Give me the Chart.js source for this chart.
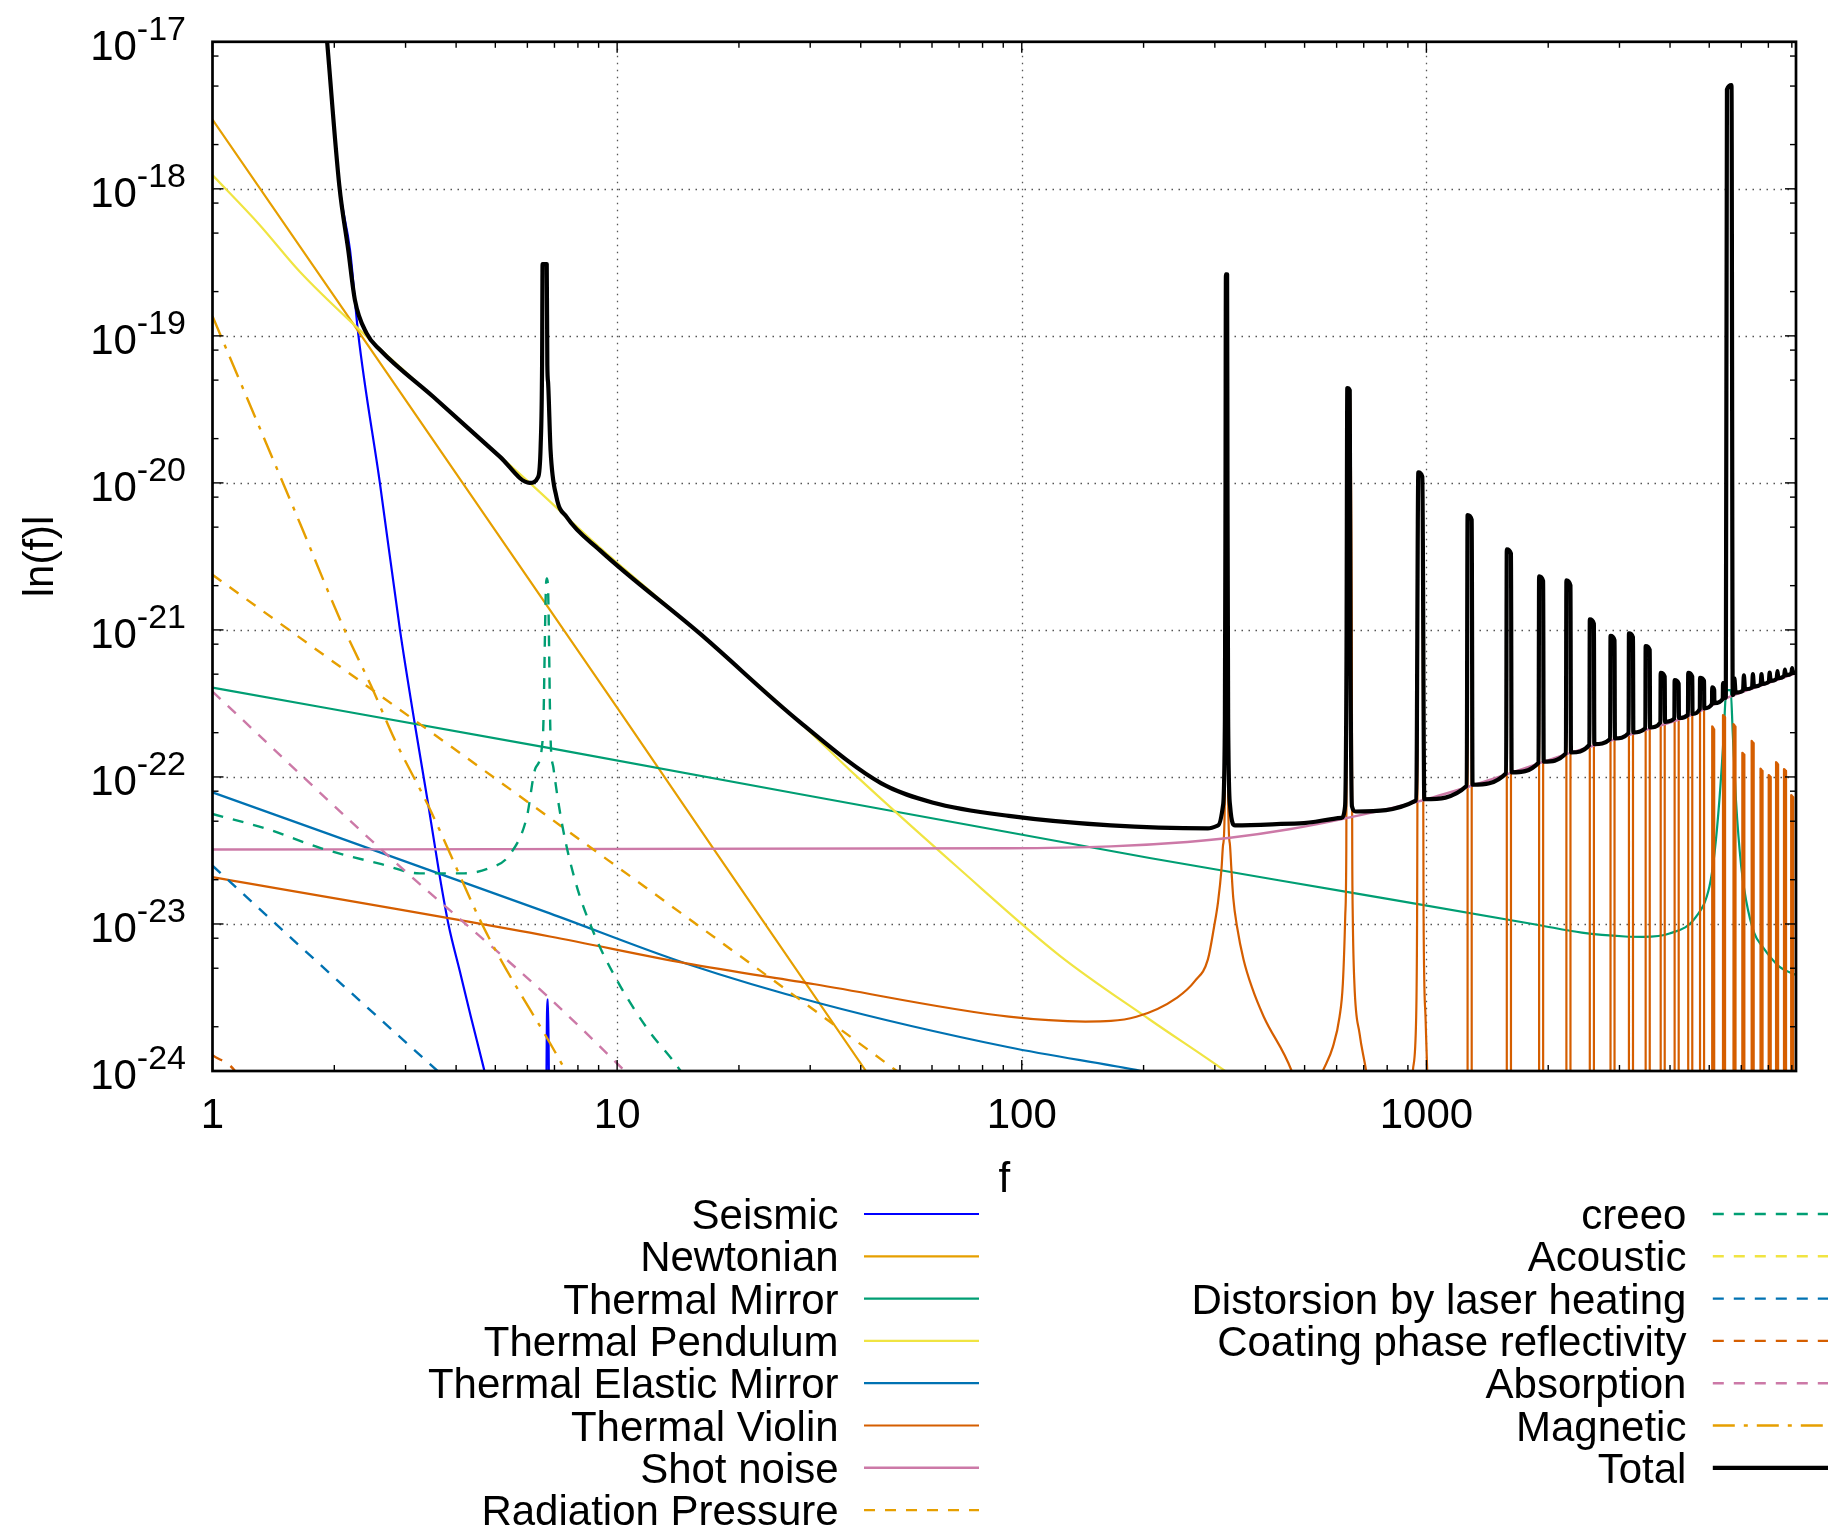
<!DOCTYPE html>
<html>
<head>
<meta charset="utf-8">
<script src="https://cdn.jsdelivr.net/npm/chart.js@4.4.1/dist/chart.umd.min.js"></script>
<style>
  html, body { margin: 0; padding: 0; background: #ffffff; }
  canvas { display: block; }
</style>
</head>
<body>
<canvas id="noise" width="1828" height="1529"></canvas>
<script>
// Noise budget curves, [frequency, amplitude] pairs
const seismic = [[1.92, 1.0e-17], [2.058, 1.05e-18], [2.187, 3.84e-19], [2.291, 1.04e-19], [2.593, 9.93e-21],
  [2.906, 1.0e-21], [3.168, 2.22e-22], [3.419, 6.31e-23], [3.64, 2.15e-23], [3.832, 9.84e-24], [4.083, 4.80e-24],
  [4.35, 2.34e-24], [4.696, 1.01e-24], [5.3, 2.5e-25], [6.6, 2.0e-26], [6.68, 6.0e-25], [6.72, 3.06e-24],
  [6.75, 3.06e-24], [6.79, 6.0e-25], [6.9, 2.0e-26], [8, 1.0e-26]];

const newtonian = [[1, 2.96e-18], [10, 2.96e-22], [41.2, 1.0e-24], [60, 2.3e-25]];

const thermalMirror = [[1, 4.05e-22], [6.82, 1.57e-22], [207, 2.81e-23], [646, 1.64e-23], [1892, 9.84e-24],
  [2421, 8.73e-24], [3097, 8.22e-24], [3425, 8.17e-24], [3987, 8.61e-24], [4641, 1.12e-23], [5004, 1.79e-23],
  [5152, 3.02e-23], [5297, 6.95e-23], [5433, 2.0e-22], [5490, 3.55e-22], [5546, 3.89e-22], [5649, 3.89e-22],
  [5715, 2.0e-22], [5821, 6.97e-23], [5998, 2.45e-23], [6166, 1.45e-23], [6457, 8.71e-24], [6776, 6.98e-24],
  [7447, 5.13e-24], [8035, 4.60e-24], [8300, 4.45e-24]];

const thermalPendulum = [[1, 1.24e-18], [1.303, 5.75e-19], [1.644, 2.73e-19], [2.291, 1.12e-19], [3.508, 3.85e-20],
  [6.081, 1.0e-20], [9.06, 3.63e-21], [16.0, 9.46e-22], [28.2, 2.37e-22], [38.9, 1.02e-22], [69.5, 2.42e-23],
  [124, 6.10e-24], [207, 2.24e-24], [318, 1.0e-24], [398, 6.3e-25]];

const thermalElastic = [[1, 7.85e-23], [6.82, 1.18e-23], [14.72, 5.41e-24], [31.8, 2.88e-24], [92.9, 1.45e-24],
  [197.6, 1.0e-24], [316, 7.6e-25]];

const thermalViolin = [[1, 2.08e-23], [6.82, 8.22e-24], [14.72, 5.42e-24], [30.8, 3.89e-24], [92.9, 2.34e-24],
  [143.6, 2.17e-24], [191.9, 2.34e-24], [242.1, 3.16e-24], [268, 4.1e-24], [288.4, 5.74e-24], [298.6, 9.5e-24],
  [305.5, 1.41e-23], [311.6, 2.37e-23], [314.5, 3.47e-23], [317.6, 7.1e-23],
  [319.4, 2.62e-19], [321.8, 2.62e-19],
  [323.6, 7.1e-23], [326.6, 3.55e-23], [329.6, 2.37e-23], [333.2, 1.5e-23], [340.6, 9.5e-24], [353.2, 5.74e-24],
  [370.6, 3.7e-24], [396.3, 2.34e-24], [464.5, 1.0e-24], [501, 5.0e-25],
  [554.6, 1.0e-24], [587.3, 1.46e-24], [609.9, 2.33e-24], [621.6, 3.94e-24], [630, 1.12e-23], [633.9, 3.18e-23],
  [636.1, 1.0e-21], [637.5, 4.41e-20], [646.4, 4.27e-20], [653.9, 1.0e-21], [655.7, 3.18e-23], [657.7, 1.12e-23],
  [663.8, 3.94e-24], [683.5, 1.80e-24], [709.6, 1.0e-24], [741, 4.0e-25],
  [901.6, 3.2e-25], [925.6, 1.0e-24], [943.4, 2.33e-24], [948.4, 1.12e-23], [955, 1.18e-20], [977, 1.10e-20],
  [984, 1.12e-23], [995, 2.33e-24], [1004.6, 1.0e-24], [1028, 3.2e-25],
  [1264, 1e-26], [1264, 6.04e-21], [1294, 5.6e-21], [1294, 1e-26],
  [1580, 1e-26], [1580, 3.53e-21], [1618, 3.3e-21], [1618, 1e-26],
  [1899, 1e-26], [1899, 2.31e-21], [1943, 2.15e-21], [1943, 1e-26],
  [2218, 1e-26], [2218, 2.17e-21], [2270, 2.0e-21], [2270, 1e-26],
  [2534, 1e-26], [2534, 1.18e-21], [2594, 1.1e-21], [2594, 1e-26],
  [2851, 1e-26], [2851, 9.1e-22], [2917, 8.5e-22], [2917, 1e-26],
  [3166, 1e-26], [3166, 9.48e-22], [3240, 8.9e-22], [3240, 1e-26],
  [3482, 1e-26], [3482, 7.76e-22], [3564, 7.3e-22], [3564, 1e-26],
  [3793, 1e-26], [3793, 5.1e-22], [3881, 4.8e-22], [3881, 1e-26],
  [4106, 1e-26], [4106, 4.55e-22], [4202, 4.3e-22], [4202, 1e-26],
  [4436, 1e-26], [4436, 5.1e-22], [4540, 4.8e-22], [4540, 1e-26],
  [4745, 1e-26], [4745, 4.72e-22], [4855, 4.5e-22], [4855, 1e-26],
  [5085, 1e-26], [5085, 2.21e-22], [5143, 2.11e-22], [5143, 1e-26],
  [5407, 1e-26], [5407, 2.63e-22], [5471, 2.55e-22], [5471, 1e-26],
  [5740, 1e-26], [5740, 2.29e-22], [5806, 2.2e-22], [5806, 1e-26],
  [6036, 1e-26], [6036, 1.46e-22], [6106, 1.42e-22], [6106, 1e-26],
  [6365, 1e-26], [6365, 1.76e-22], [6439, 1.7e-22], [6439, 1e-26],
  [6694, 1e-26], [6694, 1.14e-22], [6772, 1.1e-22], [6772, 1e-26],
  [7013, 1e-26], [7013, 1.03e-22], [7095, 1.0e-22], [7095, 1e-26],
  [7313, 1e-26], [7313, 1.26e-22], [7399, 1.22e-22], [7399, 1e-26],
  [7651, 1e-26], [7651, 1.13e-22], [7741, 1.1e-22], [7741, 1e-26],
  [7970, 1e-26], [7970, 7.52e-23], [8064, 7.3e-23], [8064, 1e-26], [8300, 1e-26]];

const shotNoise = [[1, 3.21e-23], [92.9, 3.27e-23], [166, 3.37e-23], [256.4, 3.61e-23], [323.6, 3.84e-23],
  [458, 4.41e-23], [610.6, 5.13e-23], [950.6, 6.79e-23], [1276, 8.61e-23], [1593, 1.05e-22], [2239, 1.44e-22],
  [3189, 1.94e-22], [4477, 2.61e-22], [5649, 3.53e-22], [6792, 4.23e-22], [8166, 5.07e-22], [8300, 5.15e-22]];

const radiationPressure = [[1, 2.37e-21], [7.23, 4.68e-23], [49.1, 1.0e-24], [60, 6.6e-25]];

const creeo = [[1, 5.6e-23], [1.37, 4.41e-23], [1.858, 3.27e-23], [2.585, 2.57e-23], [3.249, 2.21e-23],
  [4.188, 2.21e-23], [4.875, 2.42e-23], [5.395, 2.90e-23], [5.976, 5.28e-23], [6.285, 1.15e-22],
  [6.554, 1.87e-22], [6.676, 2.09e-21], [6.702, 2.24e-21], [6.745, 2.0e-21], [6.845, 1.87e-22],
  [6.96, 1.15e-22], [7.32, 4.68e-23], [7.90, 1.91e-23], [8.75, 8.71e-24], [9.93, 4.27e-24],
  [11.86, 1.95e-24], [14.35, 1.0e-24], [16, 6.0e-25]];

const acoustic = [];

const distorsion = [[1, 2.49e-23], [2.11, 3.78e-24], [3.6, 1.0e-24], [5, 4.4e-25]];

const coatingPhase = [[1, 1.28e-24], [1.137, 1.0e-24], [1.5, 2.3e-25]];

const absorption = [[1, 3.81e-22], [2.72, 2.9e-23], [6.785, 3.15e-24], [10.45, 1.0e-24], [13, 5.5e-25]];

const magnetic = [[1, 1.36e-19], [1.645, 5.31e-21], [2.104, 1.05e-21], [2.472, 4.1e-22], [2.824, 1.78e-22],
  [3.42, 6.31e-23], [4.75, 8.73e-24], [7.32, 1.10e-24], [8.5, 5.0e-25]];

const total = [[1.92, 1.0e-17], [2.058, 1.05e-18], [2.165, 3.84e-19], [2.249, 1.75e-19], [2.404, 1.04e-19],
  [2.593, 8.04e-20], [3.512, 3.85e-20], [5.129, 1.51e-20], [6.084, 1.0e-20], [6.383, 1.10e-20], [6.471, 1.78e-20],
  [6.524, 6.31e-20], [6.542, 3.08e-19], [6.699, 3.08e-19], [6.722, 6.31e-20], [6.753, 4.75e-20], [6.846, 1.67e-20],
  [7.079, 8.04e-21], [7.499, 5.87e-21], [9.057, 3.49e-21], [16.0, 9.46e-22], [28.25, 2.37e-22], [44.98, 9.04e-23],
  [60.1, 6.71e-23], [92.9, 5.43e-23], [166, 4.68e-23], [288.4, 4.47e-23],
  [305.5, 4.68e-23], [314.1, 6.31e-23], [317.7, 2.51e-22], [318.8, 1.0e-20], [319.5, 2.62e-19], [321.7, 2.62e-19],
  [322.4, 1.0e-20], [323.6, 2.51e-22], [327.3, 6.31e-23], [336.5, 4.68e-23], [485.9, 4.83e-23],
  [616.6, 5.27e-23], [629.5, 6.31e-23], [634.6, 6.31e-22], [637.5, 4.41e-20], [646.4, 4.27e-20], [649.4, 6.31e-22],
  [654.6, 6.31e-23], [668.3, 5.82e-23],
  [944, 6.92e-23], [955, 1.18e-20], [977, 1.10e-20], [988, 7.05e-23],
  [1258, 8.7e-23], [1264, 6.04e-21], [1294, 5.6e-21], [1300, 8.85e-23],
  [1574, 1.06e-22], [1580, 3.53e-21], [1618, 3.3e-21], [1624, 1.075e-22],
  [1893, 1.25e-22], [1899, 2.31e-21], [1943, 2.15e-21], [1949, 1.27e-22],
  [2212, 1.45e-22], [2218, 2.17e-21], [2270, 2.0e-21], [2276, 1.47e-22],
  [2528, 1.65e-22], [2534, 1.18e-21], [2594, 1.1e-21], [2600, 1.67e-22],
  [2845, 1.81e-22], [2851, 9.1e-22], [2917, 8.5e-22], [2923, 1.83e-22],
  [3160, 1.99e-22], [3166, 9.48e-22], [3240, 8.9e-22], [3246, 2.01e-22],
  [3476, 2.15e-22], [3482, 7.76e-22], [3564, 7.3e-22], [3570, 2.17e-22],
  [3787, 2.35e-22], [3793, 5.1e-22], [3881, 4.8e-22], [3887, 2.37e-22],
  [4100, 2.5e-22], [4106, 4.55e-22], [4202, 4.3e-22], [4208, 2.52e-22],
  [4430, 2.65e-22], [4436, 5.1e-22], [4540, 4.8e-22], [4546, 2.68e-22],
  [4739, 2.9e-22], [4745, 4.72e-22], [4855, 4.5e-22], [4861, 2.93e-22],
  [5079, 3.14e-22], [5085, 4.06e-22], [5143, 3.9e-22], [5149, 3.18e-22],
  [5401, 3.4e-22], [5407, 4.35e-22], [5471, 4.2e-22], [5477, 3.45e-22],
  [5495, 3.5e-22], [5530, 4.75e-18], [5675, 5.08e-18], [5715, 3.6e-22],
  [5740, 3.65e-22], [5769, 4.68e-22], [5810, 3.75e-22],
  [6060, 3.87e-22], [6090, 4.9e-22], [6130, 3.95e-22],
  [6380, 4.05e-22], [6410, 5.0e-22], [6450, 4.12e-22],
  [6700, 4.25e-22], [6730, 5.0e-22], [6770, 4.3e-22],
  [7020, 4.45e-22], [7051, 5.13e-22], [7090, 4.5e-22],
  [7340, 4.66e-22], [7371, 5.25e-22], [7410, 4.7e-22],
  [7660, 4.88e-22], [7692, 5.37e-22], [7730, 4.92e-22],
  [7980, 5.05e-22], [8012, 5.5e-22], [8050, 5.1e-22], [8300, 5.2e-22]];

// Axis ticks
const xTickValues = [1, 10, 100, 1000];
const xTickLabels = ['1', '10', '100', '1000'];
const yTickExponents = [-24, -23, -22, -21, -20, -19, -18, -17];
const xTitle = 'f';
const yTitle = 'ln(f)l';

// Series: label, data, colour, line width, dash pattern
const DASH = [11, 10];
const DASHDOT = [22, 9, 4, 9];
const series = [
  ['Seismic', seismic, '#0000ff', 2.2, []],
  ['Newtonian', newtonian, '#e69f00', 2.2, []],
  ['Thermal Mirror', thermalMirror, '#009e73', 2.2, []],
  ['Thermal Pendulum', thermalPendulum, '#f0e442', 2.2, []],
  ['Thermal Elastic Mirror', thermalElastic, '#0072b2', 2.2, []],
  ['Thermal Violin', thermalViolin, '#d55e00', 2.2, []],
  ['Shot noise', shotNoise, '#cc79a7', 2.4, []],
  ['Radiation Pressure', radiationPressure, '#e69f00', 2.4, DASH],
  ['creeo', creeo, '#009e73', 2.4, DASH],
  ['Acoustic', acoustic, '#f0e442', 2.4, DASH],
  ['Distorsion by laser heating', distorsion, '#0072b2', 2.4, DASH],
  ['Coating phase reflectivity', coatingPhase, '#d55e00', 2.4, DASH],
  ['Absorption', absorption, '#cc79a7', 2.4, DASH],
  ['Magnetic', magnetic, '#e69f00', 2.4, DASHDOT],
  ['Total', total, '#000000', 4.2, []]
];

const N = series.length;
const datasets = series.map(([label, pts, color, width, dash], i) => ({
  label,
  data: pts.map(([x, y]) => ({ x, y })),
  borderColor: color,
  backgroundColor: color,
  borderWidth: width,
  borderDash: dash,
  borderJoinStyle: 'round',
  cubicInterpolationMode: 'monotone',
  pointRadius: 0,
  fill: false,
  order: N - i
}));

const FONT = '"Liberation Sans", Arial, Helvetica, sans-serif';

function seg(ctx, x0, y0, x1, y1) {
  ctx.beginPath(); ctx.moveTo(x0, y0); ctx.lineTo(x1, y1); ctx.stroke();
}

const framePlugin = {
  id: 'gnuFrame',
  beforeDatasetsDraw(chart) {
    const { ctx, chartArea: a, scales: { x, y } } = chart;
    ctx.save();
    ctx.strokeStyle = '#555555';
    ctx.lineWidth = 1.3;
    ctx.setLineDash([1.5, 5.5]);
    for (const v of xTickValues) {
      if (v <= 1) continue;
      const px = Math.round(x.getPixelForValue(v)) + 0.5;
      seg(ctx, px, a.top, px, a.bottom);
    }
    for (const e of yTickExponents) {
      if (e <= -24 || e >= -17) continue;
      const py = Math.round(y.getPixelForValue(Math.pow(10, e))) + 0.5;
      seg(ctx, a.left, py, a.right, py);
    }
    ctx.restore();
  },
  afterDatasetsDraw(chart) {
    const { ctx, chartArea: a, scales: { x, y } } = chart;
    ctx.save();
    ctx.setLineDash([]);
    ctx.strokeStyle = '#000000';
    ctx.lineWidth = 1.4;
    const MAJ = 11, MIN = 6;
    // x ticks, on bottom and top edges
    for (let d = 1; d <= 1000; d *= 10) {
      for (let m = 1; m <= 9; m++) {
        const v = d * m;
        if (v > x.max) break;
        const px = x.getPixelForValue(v);
        const len = m === 1 ? MAJ : MIN;
        seg(ctx, px, a.bottom, px, a.bottom - len);
        seg(ctx, px, a.top, px, a.top + len);
      }
    }
    // y ticks, on left and right edges
    for (const e of yTickExponents) {
      const py = y.getPixelForValue(Math.pow(10, e));
      seg(ctx, a.left, py, a.left + MAJ, py);
      seg(ctx, a.right, py, a.right - MAJ, py);
      if (e < -17) {
        for (const m of [2, 5, 8]) {
          const pm = y.getPixelForValue(m * Math.pow(10, e));
          seg(ctx, a.left, pm, a.left + MIN, pm);
          seg(ctx, a.right, pm, a.right - MIN, pm);
        }
      }
    }
    // border
    ctx.lineWidth = 2.7;
    ctx.strokeRect(a.left, a.top, a.right - a.left, a.bottom - a.top);

    // tick labels
    ctx.fillStyle = '#000000';
    ctx.textBaseline = 'alphabetic';
    for (const e of yTickExponents) {
      const py = y.getPixelForValue(Math.pow(10, e));
      const sup = String(e);
      ctx.font = '34px ' + FONT;
      ctx.textAlign = 'right';
      const ws = ctx.measureText(sup).width;
      ctx.fillText(sup, 186, py - 2);
      ctx.font = '42px ' + FONT;
      ctx.fillText('10', 186 - ws, py + 18);
    }
    ctx.font = '42px ' + FONT;
    ctx.textAlign = 'center';
    xTickValues.forEach((v, i) => {
      ctx.fillText(xTickLabels[i], x.getPixelForValue(v), 1128);
    });

    // axis titles
    ctx.fillText(xTitle, (a.left + a.right) / 2, 1192);
    ctx.save();
    ctx.translate(53, (a.top + a.bottom) / 2);
    ctx.rotate(-Math.PI / 2);
    ctx.textAlign = 'center';
    ctx.fillText(yTitle, 0, 0);
    ctx.restore();

    // key below the plot, two columns
    const cols = [
      { right: 838.6, s0: 864, s1: 979, from: 0, to: 8 },
      { right: 1686.4, s0: 1712.8, s1: 1832, from: 8, to: N }
    ];
    const row0 = 1214, dRow = 42.3;
    ctx.textAlign = 'right';
    for (const c of cols) {
      for (let i = c.from; i < c.to; i++) {
        const ds = chart.data.datasets[i];
        const ry = row0 + (i - c.from) * dRow;
        ctx.fillStyle = '#000000';
        ctx.fillText(ds.label, c.right, ry + 15);
        ctx.save();
        ctx.strokeStyle = ds.borderColor;
        ctx.lineWidth = ds.borderWidth;
        ctx.setLineDash(ds.borderDash || []);
        seg(ctx, c.s0, ry, c.s1, ry);
        ctx.restore();
      }
    }
    ctx.restore();
  }
};

new Chart(document.getElementById('noise'), {
  type: 'line',
  data: { datasets },
  options: {
    responsive: false,
    animation: false,
    devicePixelRatio: 1,
    layout: { padding: { left: 212.5, top: 41.8, right: 32, bottom: 458 } },
    elements: { line: { capBezierPoints: false } },
    plugins: { legend: { display: false }, tooltip: { enabled: false } },
    scales: {
      x: { type: 'logarithmic', min: 1, max: 8192, display: false },
      y: { type: 'logarithmic', min: 1e-24, max: 1e-17, display: false }
    }
  },
  plugins: [framePlugin]
});
</script>
</body>
</html>
